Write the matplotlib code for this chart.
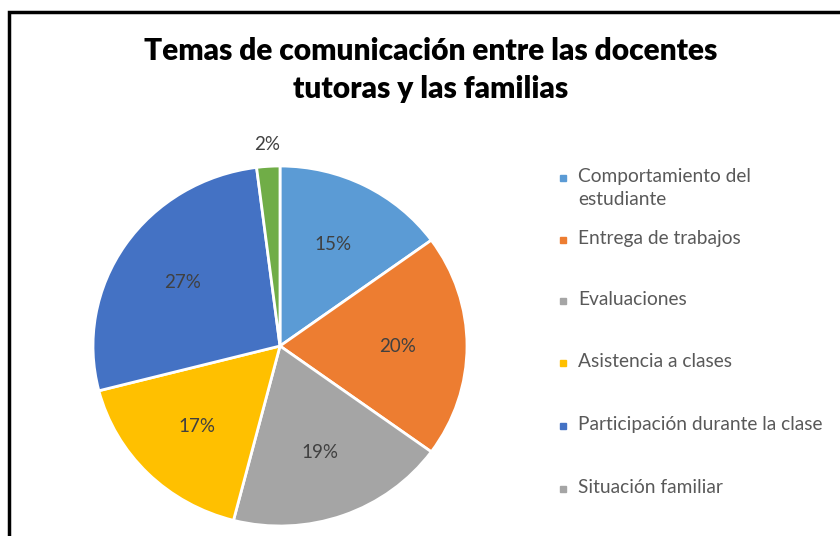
import matplotlib.pyplot as plt
from matplotlib.patches import Rectangle

plt.rcParams['font.family'] = ['Lato', 'DejaVu Sans']

temas = ["Comportamiento del\nestudiante", "Entrega de trabajos", "Evaluaciones",
         "Asistencia a clases", "Participación durante la clase", "Situación familiar"]
porcentajes = [15, 20, 19, 17, 27, 2]
colores = ["#5B9BD5", "#ED7D31", "#A5A5A5", "#FFC000", "#4472C4", "#70AD47"]
colores_leyenda = ["#5B9BD5", "#ED7D31", "#A5A5A5", "#FFC000", "#4472C4", "#A5A5A5"]

fig = plt.figure(figsize=(8.4, 5.36), dpi=100)
fig.patch.set_facecolor("white")

# black frame (cut off at right and bottom like the screenshot)
fig.patches.append(Rectangle((9 / 840, -0.05), 1.0, (536 - 12) / 536 + 0.05,
                             transform=fig.transFigure, fill=False,
                             edgecolor="black", linewidth=2.5))

fig.text(431 / 840, 1 - 51 / 536, "Temas de comunicación entre las docentes",
         ha="center", va="center", fontsize=21.5, fontweight="heavy", color="black")
fig.text(431 / 840, 1 - 89 / 536, "tutoras y las familias",
         ha="center", va="center", fontsize=21.5, fontweight="heavy", color="black")

# pie (slightly squashed vertically, like the screenshot)
cx, cy, rx, ry = 280, 346, 187, 180
ax = fig.add_axes([(cx - rx) / 840, (536 - cy - ry) / 536, 2 * rx / 840, 2 * ry / 536])
wedges, texts, autotexts = ax.pie(
    porcentajes, colors=colores, startangle=90, counterclock=False,
    autopct=lambda p: f"{p:.0f}%", pctdistance=0.63,
    wedgeprops=dict(edgecolor="white", linewidth=2),
    textprops=dict(fontsize=13.5, color="#404040"))
ax.set_aspect("auto")
ax.set_xlim(-1, 1)
ax.set_ylim(-1, 1)

# small slice label goes outside
x, y = autotexts[-1].get_position()
autotexts[-1].set_position((x / 0.63 * 1.12, y / 0.63 * 1.12))

# legend
ys = [178, 240, 301, 363, 426, 489]
for tema, col, yy in zip(temas, colores_leyenda, ys):
    fig.patches.append(Rectangle((560 / 840, 1 - (yy + 3) / 536), 6 / 840, 6 / 536,
                                 transform=fig.transFigure, color=col))
    fig.text(578 / 840, 1 - (yy - 10) / 536, tema, ha="left", va="top",
             fontsize=13.8, color="#595959", linespacing=1.4)

fig.savefig("out.png", dpi=100, facecolor="white")
